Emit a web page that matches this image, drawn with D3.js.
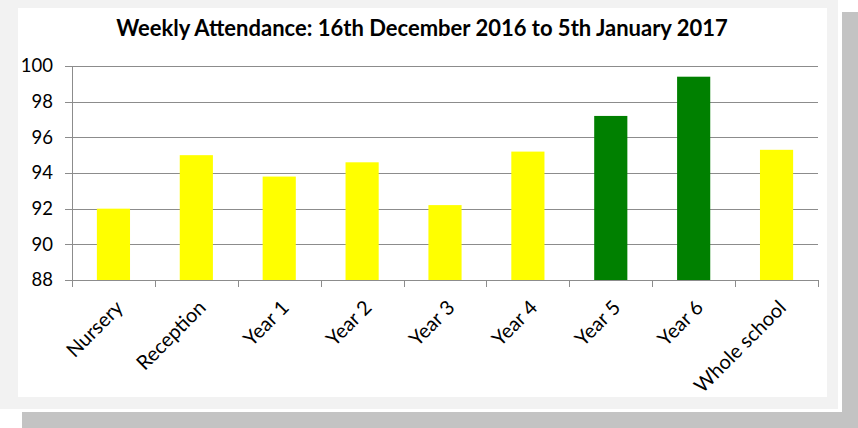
<!DOCTYPE html>
<html>
<head>
<meta charset="utf-8">
<script src="https://cdn.jsdelivr.net/npm/d3@7"></script>
<style>
  body { margin: 0; background: #fff; }
  text { font-family: Lato, "Open Sans", sans-serif; fill: #000; }
</style>
</head>
<body>
<div id="chart"></div>
<script>
var categories = ["Nursery", "Reception", "Year 1", "Year 2", "Year 3", "Year 4", "Year 5", "Year 6", "Whole school"];
var attendance = [92.0, 95.0, 93.8, 94.6, 92.2, 95.2, 97.2, 99.4, 95.3];
var barColours = ["#ffff00", "#ffff00", "#ffff00", "#ffff00", "#ffff00", "#ffff00", "#008000", "#008000", "#ffff00"];
var yTicks = [88, 90, 92, 94, 96, 98, 100];

var svg = d3.select("#chart")
      .append("svg")
      .attr("width", 858)
      .attr("height", 428);

// frame: shadow, grey border, white chart area
svg.append("rect").attr("x", 22).attr("y", 12).attr("width", 836).attr("height", 416).style("fill", "#c3c3c3");
svg.append("rect").attr("x", 0).attr("y", 0).attr("width", 842).attr("height", 412).style("fill", "#fff");
svg.append("rect").attr("x", 0).attr("y", 0).attr("width", 838).attr("height", 409).style("fill", "#f2f2f2");
svg.append("rect").attr("x", 18).attr("y", 8).attr("width", 809).attr("height", 389).style("fill", "#fff");

var plotLeft = 72, plotRight = 818, plotTop = 66, plotBottom = 280;

var x = d3.scaleBand()
      .domain(categories)
      .range([plotLeft, plotRight])
      .paddingInner(0.6)
      .paddingOuter(0.3);

var y = d3.scaleLinear()
      .domain([88, 100])
      .range([plotBottom, plotTop]);

// gridlines
svg.append("g")
  .selectAll("line")
  .data(yTicks)
  .enter()
  .append("line")
  .attr("x1", plotLeft - 7)
  .attr("x2", plotRight)
  .attr("y1", function(d) { return Math.round(y(d)) + 0.5; })
  .attr("y2", function(d) { return Math.round(y(d)) + 0.5; })
  .style("stroke", "#8c8c8c")
  .style("stroke-width", 1);

// y labels
svg.append("g")
  .selectAll("text")
  .data(yTicks)
  .enter()
  .append("text")
  .attr("x", 53)
  .attr("y", function(d) { return y(d); })
  .attr("dy", "0.35em")
  .attr("text-anchor", "end")
  .style("font-size", "18.5px")
  .text(function(d) { return d; });

// bars
svg.append("g")
  .selectAll("rect")
  .data(attendance)
  .enter()
  .append("rect")
  .attr("x", function(d, i) { return x(categories[i]); })
  .attr("y", function(d) { return y(d); })
  .attr("width", x.bandwidth())
  .attr("height", function(d) { return plotBottom - y(d); })
  .style("fill", function(d, i) { return barColours[i]; });

// y axis line
svg.append("line")
  .attr("x1", plotLeft + 0.5).attr("x2", plotLeft + 0.5)
  .attr("y1", plotTop).attr("y2", plotBottom)
  .style("stroke", "#8c8c8c");

// x axis line + ticks at band edges
svg.append("line")
  .attr("x1", plotLeft).attr("x2", plotRight)
  .attr("y1", plotBottom + 0.5).attr("y2", plotBottom + 0.5)
  .style("stroke", "#8c8c8c");

var step = x.step();
svg.append("g")
  .selectAll("line")
  .data(d3.range(categories.length + 1))
  .enter()
  .append("line")
  .attr("x1", function(i) { return Math.round(plotLeft + i * step) + 0.5; })
  .attr("x2", function(i) { return Math.round(plotLeft + i * step) + 0.5; })
  .attr("y1", plotBottom)
  .attr("y2", plotBottom + 7)
  .style("stroke", "#8c8c8c");

// category labels, rotated
svg.append("g")
  .selectAll("text")
  .data(categories)
  .enter()
  .append("text")
  .attr("transform", function(d) {
    return "translate(" + (x(d) + x.bandwidth() / 2 + 1) + "," + (plotBottom + 19) + ") rotate(-45)";
  })
  .attr("text-anchor", "end")
  .attr("dy", "0.7em")
  .style("font-size", "20px")
  .text(function(d) { return d; });

// title
svg.append("text")
  .attr("x", 422)
  .attr("y", 36)
  .attr("text-anchor", "middle")
  .style("font-size", "22px")
  .style("font-weight", "bold")
  .text("Weekly Attendance: 16th December 2016 to 5th January 2017");
</script>
</body>
</html>
